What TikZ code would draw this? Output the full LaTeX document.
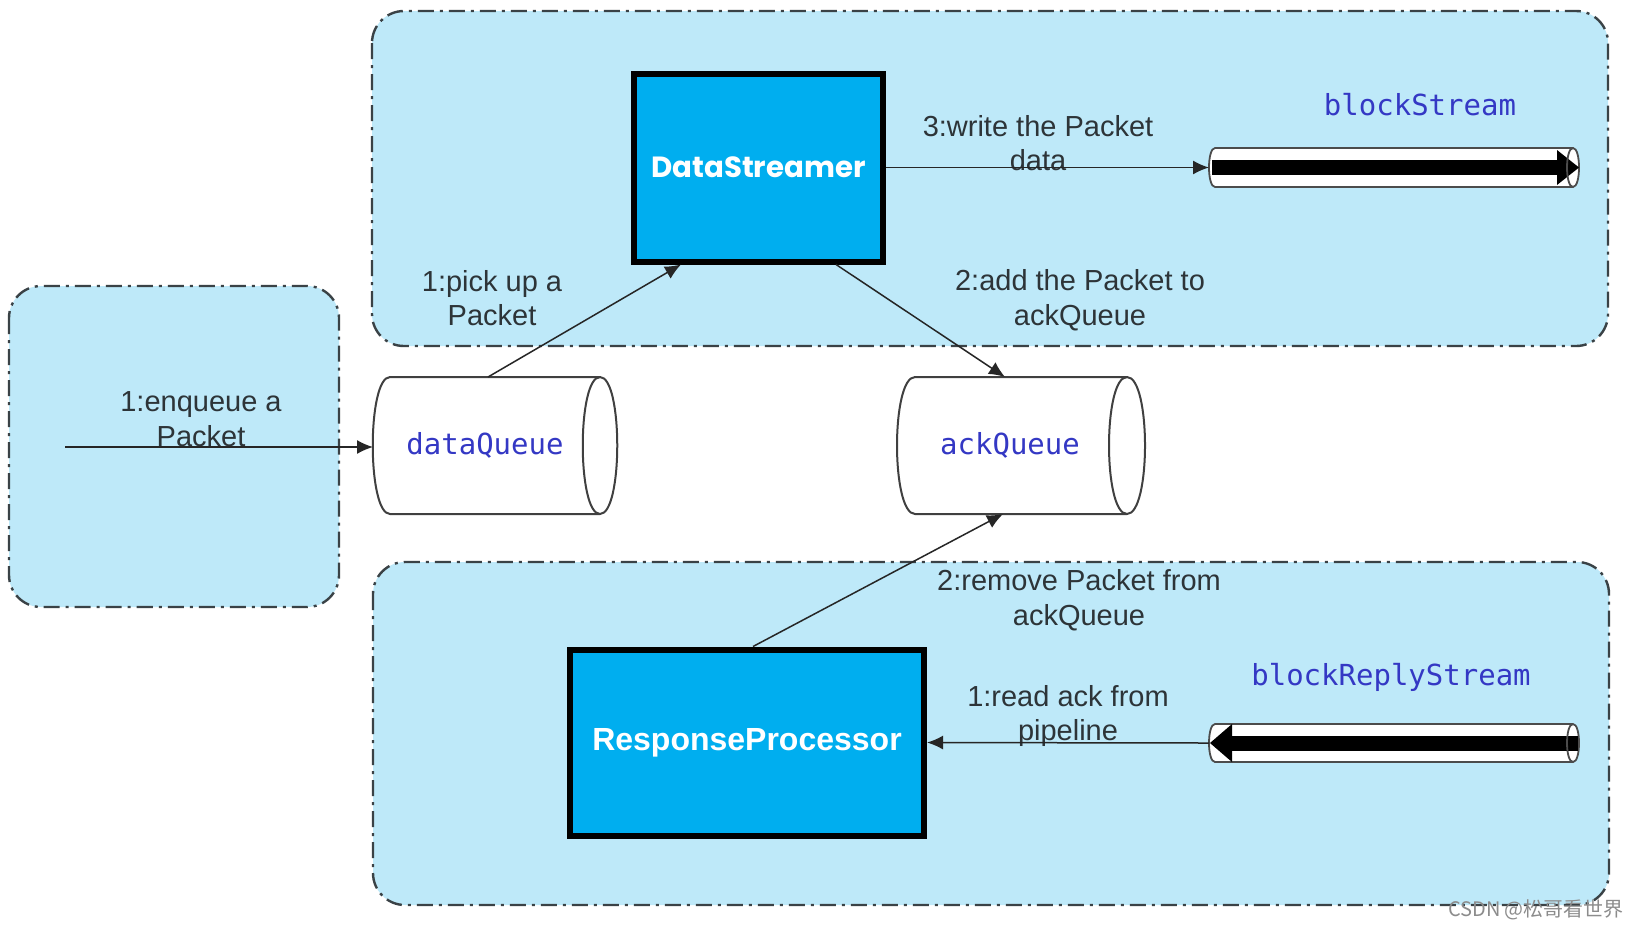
\documentclass[tikz,border=0pt]{standalone}
\usepackage{fontspec}
\setmainfont{Liberation Sans}
\newfontfamily\monofont{DejaVu Sans Mono}
\newfontfamily\geofont{Poppins}
\newfontfamily\cjkfont{Noto Sans CJK SC}
\usetikzlibrary{arrows.meta,calc}
\definecolor{panelfill}{RGB}{190,233,249}
\definecolor{boxfill}{RGB}{0,174,239}
\definecolor{qblue}{RGB}{52,56,196}
\definecolor{bordergray}{RGB}{58,66,70}
\definecolor{labelgray}{RGB}{45,52,56}
\begin{document}
\begin{tikzpicture}[x=0.5pt,y=-0.5pt,
  panel/.style={fill=panelfill,draw=bordergray,line width=1.2pt,rounded corners=16pt,dash pattern=on 8pt off 3pt on 1.5pt off 3pt},
  procbox/.style={draw=black,line width=3pt,fill=boxfill,text=white,inner sep=0pt},
  qlabel/.style={text=qblue,font=\monofont\fontsize{14.5}{17}\selectfont,inner sep=0pt},
  flowlabel/.style={text=labelgray,align=center,font=\fontsize{14.5}{17.3}\selectfont,inner sep=0pt},
  conn/.style={draw=black!85,line width=0.75pt,-{Latex[length=8pt,width=7pt]}},
  anchorbox/.style={draw=none,inner sep=0pt,outer sep=0pt},
  qshape/.style={fill=white,draw=black!75,line width=1pt},
  pipeline/.style={draw=black!70,line width=0.9pt},
]
\useasboundingbox (0,0) rectangle (1636,928);
\fill[white] (0,0) rectangle (1636,928);

% panels
\path[panel] (372,11) rectangle (1608,346);
\path[panel] (9,286) rectangle (339,607);
\path[panel] (373,562) rectangle (1609,905);

% queues
\path[qshape] (390,377) -- (600,377) .. controls (623,377) and (623,514) .. (600,514) -- (390,514) .. controls (367,514) and (367,377) .. (390,377) -- cycle;
\draw[qshape,fill=none] (600,377) .. controls (577,377) and (577,514) .. (600,514);
\path[qshape] (915,377) -- (1127,377) .. controls (1151,377) and (1151,514) .. (1127,514) -- (915,514) .. controls (891,514) and (891,377) .. (915,377) -- cycle;
\draw[qshape,fill=none] (1127,377) .. controls (1103,377) and (1103,514) .. (1127,514);
\node[anchorbox,minimum width=122pt,minimum height=68.5pt] (dq) at (495,445.5) {};
\node[anchorbox,minimum width=124pt,minimum height=68.5pt] (aq) at (1021,445.5) {};
\node[qlabel] (dqt) at (485,445) {dataQueue};
\node[qlabel] (aqt) at (1010,445) {ackQueue};

% pipes
\path[pipeline,fill=white] (1215,148) -- (1573,148) .. controls (1581,148) and (1581,187) .. (1573,187) -- (1215,187) .. controls (1207,187) and (1207,148) .. (1215,148) -- cycle;
\fill[black] (1212,160) rectangle (1560,175);
\fill[black] (1557,150) -- (1579,167.5) -- (1557,185) -- cycle;
\draw[pipeline] (1573,148) .. controls (1565,148) and (1565,187) .. (1573,187);
\node[anchorbox,minimum width=185pt,minimum height=19.5pt] (bs) at (1394,167.5) {};
\node[qlabel] (bst) at (1420,105) {blockStream};

\path[pipeline,fill=white] (1215,724) -- (1573,724) .. controls (1581,724) and (1581,762) .. (1573,762) -- (1215,762) .. controls (1207,762) and (1207,724) .. (1215,724) -- cycle;
\fill[black] (1228,735.5) rectangle (1578,750.5);
\fill[black] (1232,724) -- (1210,743) -- (1232,762) -- cycle;
\draw[pipeline] (1573,724) .. controls (1565,724) and (1565,762) .. (1573,762);
\node[anchorbox,minimum width=185pt,minimum height=19pt] (brs) at (1394,743) {};
\node[qlabel] (brst) at (1391,677) {blockReplyStream};

% process boxes
\node[procbox,minimum width=124.5pt,minimum height=94pt,font=\geofont\bfseries\fontsize{14.6}{17}\selectfont] (ds) at (758.5,167.5) {DataStreamer};
\node[procbox,minimum width=177pt,minimum height=93pt,font=\bfseries\fontsize{16}{19}\selectfont] (rp) at (747,742.5) {ResponseProcessor};

% labels
\node[flowlabel] (l1) at (201,419) {1:enqueue a\\Packet};
\node[flowlabel] (l2) at (492,298) {1:pick up a\\Packet};
\node[flowlabel] (l3) at (1080,300) {2:add the Packet to\\ackQueue};
\node[flowlabel] (l4) at (1038,143) {3:write the Packet\\data};
\node[flowlabel] (l5) at (1079,600) {2:remove Packet from\\ackQueue};
\node[flowlabel] (l6) at (1068,716) {1:read ack from\\pipeline};

% connectors
\coordinate (enq) at (65,447);
\draw[conn] (enq) -- (dq.west |- enq);
\draw[conn] ($(dq.north)+(-7,0)$) -- ($(ds.south)+(-77.5,0)$);
\draw[conn] ($(ds.south)+(77.5,0)$) -- ($(aq.north)+(-16,0)$);
\draw[conn] (ds.east) -- (bs.west);
\draw[conn] ($(rp.north)+(6,0)$) -- ($(aq.south)+(-18,0)$);
\draw[conn] (brs.west) -- (rp.east);

% watermark
\node[text=black!45,font=\cjkfont\fontsize{10}{12}\selectfont,inner sep=0pt] (wm) at (1536,910) {CSDN @松哥看世界};
\end{tikzpicture}
\end{document}
